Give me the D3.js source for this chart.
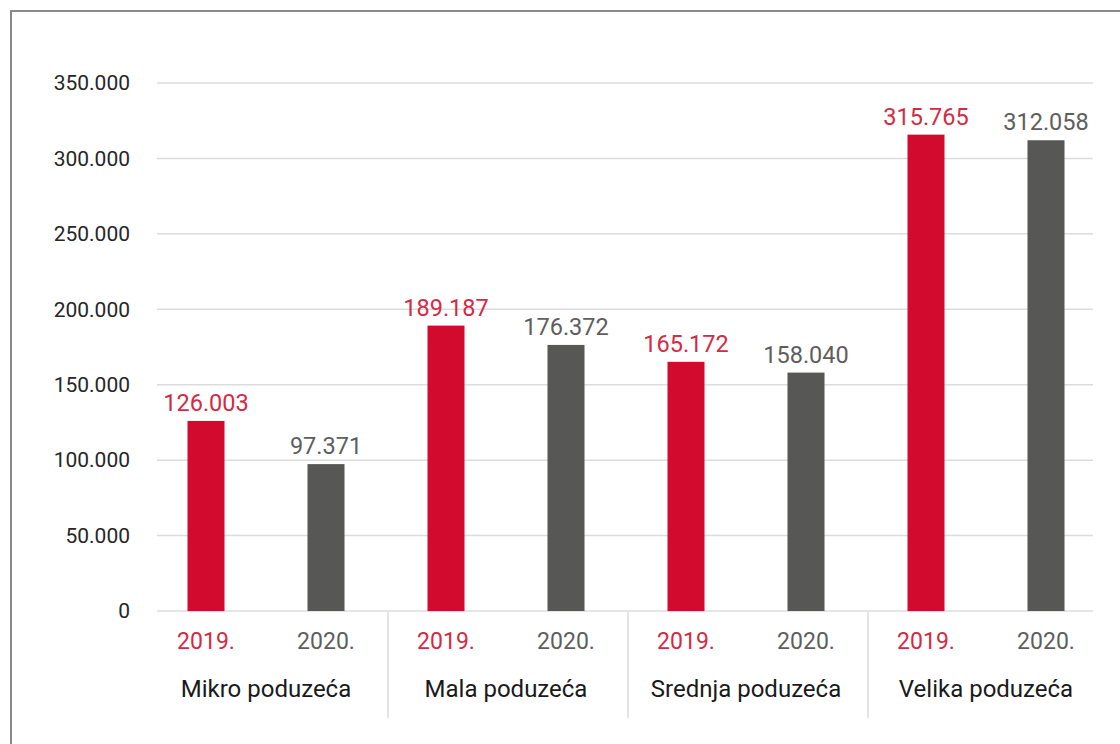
<!DOCTYPE html>
<html>
<head>
<meta charset="utf-8">
<script src="https://cdn.jsdelivr.net/npm/d3@7"></script>
<style>
  body { margin: 0; background: #fff; }
  svg text { font-family: Roboto, "Liberation Sans", sans-serif; }
</style>
</head>
<body>
<svg id="chart" width="1120" height="744"></svg>
<script>
// data
const categories = ["Mikro poduzeća", "Mala poduzeća", "Srednja poduzeća", "Velika poduzeća"];
const years = ["2019.", "2020."];
const values2019 = [126003, 189187, 165172, 315765];
const values2020 = [97371, 176372, 158040, 312058];
const yTicks = [0, 50000, 100000, 150000, 200000, 250000, 300000, 350000];

const red = "#d20a2e", grey = "#575756";

const svg = d3.select("#chart");

// frame
svg.append("path")
  .attr("d", "M11,744 V11 H1120")
  .attr("fill", "none")
  .attr("stroke", "#8a8a8a")
  .attr("stroke-width", 2);

const y = d3.scaleLinear().domain([0, 350000]).range([611, 83]);

const x0 = d3.scaleBand().domain(categories).range([146, 1106]);
const x1 = d3.scaleBand().domain(years).range([0, x0.bandwidth()]);
const barW = 37;

const fmt = v => d3.format(",")(v).replace(/,/g, ".");

// gridlines
svg.append("g").selectAll("line")
  .data(yTicks)
  .enter().append("line")
  .attr("x1", 157).attr("x2", 1093)
  .attr("y1", d => y(d)).attr("y2", d => y(d))
  .attr("stroke", "#dcdcdc")
  .attr("stroke-width", 1.5);

// y axis labels
const yAxis = d3.axisLeft(y).tickValues(yTicks).tickFormat(d => d === 0 ? "0" : fmt(d)).tickSize(0).tickPadding(0);
svg.append("g")
  .attr("transform", "translate(130,0)")
  .call(yAxis)
  .call(g => g.select(".domain").remove())
  .selectAll("text")
  .attr("font-size", 21)
  .attr("fill", "#262626")
  .attr("font-family", "Roboto, sans-serif");

// rows for bars
const rows = [];
categories.forEach((c, i) => {
  rows.push({cat: c, year: years[0], value: values2019[i], color: red, text: "#d42a45"});
  rows.push({cat: c, year: years[1], value: values2020[i], color: grey, text: "#5e5e5e"});
});

const cx = d => x0(d.cat) + x1(d.year) + x1.bandwidth() / 2;

svg.append("g").selectAll("rect")
  .data(rows)
  .enter().append("rect")
  .attr("x", d => cx(d) - barW / 2)
  .attr("width", barW)
  .attr("y", d => y(d.value))
  .attr("height", d => y(0) - y(d.value))
  .attr("fill", d => d.color);

// value labels
svg.append("g").selectAll("text")
  .data(rows)
  .enter().append("text")
  .attr("x", cx)
  .attr("y", d => y(d.value) - 10)
  .attr("text-anchor", "middle")
  .attr("font-size", 23.5)
  .attr("fill", d => d.text)
  .text(d => fmt(d.value));

// year labels
svg.append("g").selectAll("text")
  .data(rows)
  .enter().append("text")
  .attr("x", cx)
  .attr("y", 649)
  .attr("text-anchor", "middle")
  .attr("font-size", 23)
  .attr("fill", d => d.text)
  .text(d => d.year);

// category labels
svg.append("g").selectAll("text")
  .data(categories)
  .enter().append("text")
  .attr("x", d => x0(d) + x0.bandwidth() / 2)
  .attr("y", 697)
  .attr("text-anchor", "middle")
  .attr("font-size", 24)
  .attr("fill", "#1a1a1a")
  .text(d => d);

// category separators
svg.append("g").selectAll("line")
  .data(categories.slice(1))
  .enter().append("line")
  .attr("x1", d => x0(d) + 2).attr("x2", d => x0(d) + 2)
  .attr("y1", 612).attr("y2", 718)
  .attr("stroke", "#dcdcdc")
  .attr("stroke-width", 1.5);
</script>
</body>
</html>
